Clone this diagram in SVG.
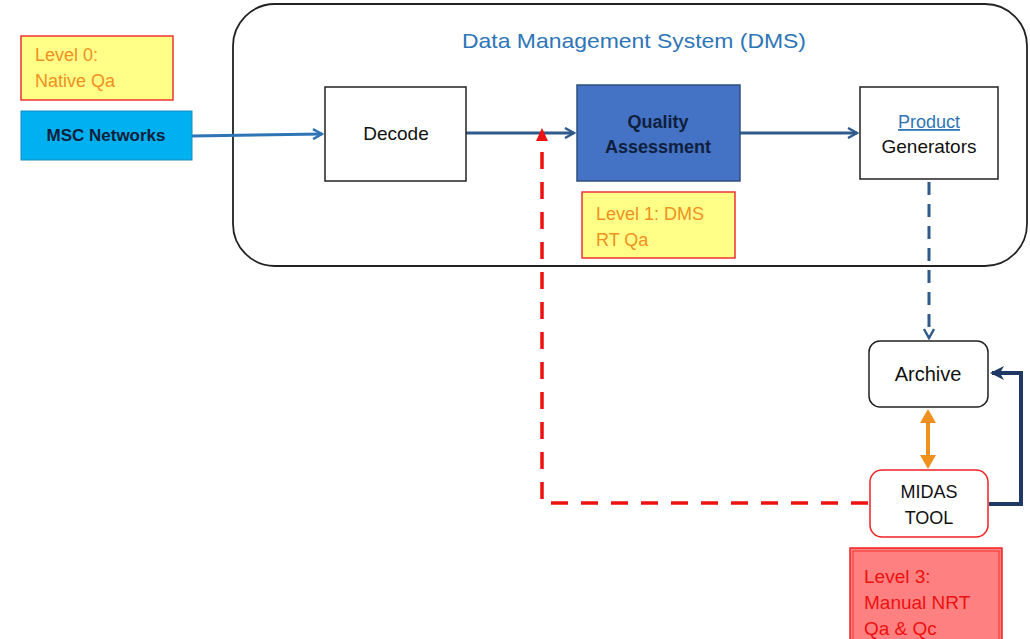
<svg xmlns="http://www.w3.org/2000/svg" width="1030" height="639" viewBox="0 0 1030 639">
  <style>
    text { font-family: "Liberation Sans", Arial, sans-serif; }
    .box { fill: #ffffff; stroke: #222222; stroke-width: 1.5; }
    .lbl { font-size: 18px; fill: #111111; text-anchor: middle; }
    .note { font-size: 18px; fill: #F0901E; }
    .noteY { fill: #FFFF88; stroke: #EE3333; stroke-width: 1.5; }
    .flow { fill: none; stroke: #2F5A8A; stroke-width: 3; }
  </style>
  <defs>
    <marker id="openArrow" viewBox="0 0 12 12" refX="10" refY="6" markerWidth="12" markerHeight="12" orient="auto" markerUnits="userSpaceOnUse">
      <path d="M1,1 L10,6 L1,11" fill="none" stroke="context-stroke" stroke-width="2.4"/>
    </marker>
  </defs>

  <rect width="1030" height="639" fill="#ffffff"/>

  <!-- system boundary -->
  <g id="dms">
    <rect x="233" y="4" width="794" height="262" rx="42" fill="none" stroke="#222222" stroke-width="1.8"/>
    <text x="634" y="48" font-size="21" fill="#2E75B6" text-anchor="middle" textLength="344" lengthAdjust="spacingAndGlyphs">Data Management System (DMS)</text>
  </g>

  <!-- connectors -->
  <g id="connectors">
    <line x1="192" y1="136" x2="322" y2="134" stroke="#2E75B6" stroke-width="3" marker-end="url(#openArrow)"/>
    <line x1="466" y1="133" x2="574" y2="133" class="flow" marker-end="url(#openArrow)"/>
    <line x1="740" y1="133" x2="857" y2="133" class="flow" marker-end="url(#openArrow)"/>
    <line x1="929" y1="182" x2="929" y2="338" stroke="#2F5A8A" stroke-width="3" stroke-dasharray="13,9" marker-end="url(#openArrow)"/>
    <!-- feedback from MIDAS to the QA input -->
    <polyline points="868,503 542,503 542,142" fill="none" stroke="#EE1111" stroke-width="3.5" stroke-dasharray="17,13"/>
    <path d="M536,141 L542,128 L548,141 Z" fill="#EE1111"/>
    <!-- MIDAS back to Archive -->
    <polyline points="989,504 1021,504 1021,373 992,373" fill="none" stroke="#1F3864" stroke-width="4"/>
    <path d="M990,373 L1004,366 L1000,373 L1004,380 Z" fill="#1F3864"/>
    <!-- Archive / MIDAS exchange -->
    <line x1="928" y1="420" x2="928" y2="458" stroke="#F0901E" stroke-width="4"/>
    <path d="M928,409 L920,423 L936,423 Z" fill="#F0901E"/>
    <path d="M928,469 L920,455 L936,455 Z" fill="#F0901E"/>
  </g>

  <g id="level0">
    <rect x="21" y="36" width="152" height="64" class="noteY"/>
    <text x="35" y="61" class="note">Level 0:</text>
    <text x="35" y="87" class="note">Native Qa</text>
  </g>

  <g id="msc">
    <rect x="21" y="111" width="171" height="49" fill="#00B0F0" stroke="#1A8CC0" stroke-width="1"/>
    <text x="106" y="141" font-size="17" font-weight="bold" fill="#10203A" text-anchor="middle">MSC Networks</text>
  </g>

  <g id="decode">
    <rect x="325" y="87" width="141" height="94" class="box"/>
    <text x="396" y="140" class="lbl" font-size="19" style="font-size:19px">Decode</text>
  </g>

  <g id="qa">
    <rect x="577" y="85" width="163" height="96" fill="#4472C4" stroke="#2F4F7F" stroke-width="1.5"/>
    <text x="658" y="128" font-size="18" font-weight="bold" fill="#0F1F3D" text-anchor="middle">Quality</text>
    <text x="658" y="153" font-size="18" font-weight="bold" fill="#0F1F3D" text-anchor="middle">Assessment</text>
  </g>

  <g id="level1">
    <rect x="582" y="192" width="153" height="66" class="noteY"/>
    <text x="596" y="220" class="note">Level 1: DMS</text>
    <text x="596" y="246" class="note">RT Qa</text>
  </g>

  <g id="products">
    <rect x="860" y="87" width="138" height="92" class="box"/>
    <text x="929" y="128" class="lbl" style="fill:#2E75B6" text-decoration="underline">Product</text>
    <text x="929" y="153" class="lbl" style="font-size:19px">Generators</text>
  </g>

  <g id="archive">
    <rect x="869" y="341" width="119" height="66" rx="11" class="box"/>
    <text x="928" y="381" class="lbl" style="font-size:20px">Archive</text>
  </g>

  <g id="midas">
    <rect x="870" y="470" width="118" height="67" rx="12" fill="#ffffff" stroke="#EE2222" stroke-width="1.5"/>
    <text x="929" y="498" class="lbl">MIDAS</text>
    <text x="929" y="524" class="lbl">TOOL</text>
  </g>

  <g id="level3">
    <rect x="850" y="548" width="152" height="95" fill="#FF8080" stroke="#EE2222" stroke-width="1.5"/>
    <rect x="853" y="551" width="146" height="92" fill="none" stroke="#EE2222" stroke-width="0.8"/>
    <text x="864" y="583" font-size="19" fill="#EE1111">Level 3:</text>
    <text x="864" y="609" font-size="19" fill="#EE1111">Manual NRT</text>
    <text x="864" y="635" font-size="19" fill="#EE1111">Qa &amp; Qc</text>
  </g>
</svg>
